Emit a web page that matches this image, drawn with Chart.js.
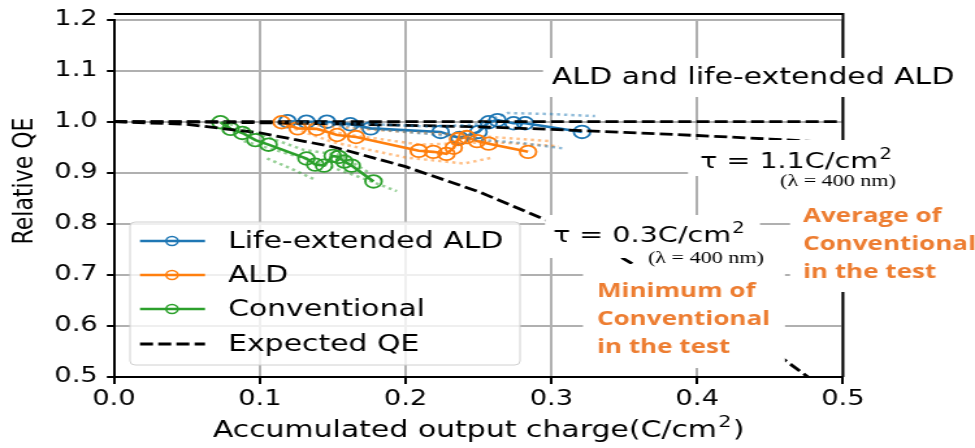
<!DOCTYPE html>
<html lang="en">
<head>
<meta charset="UTF-8">
<title>Relative QE</title>
<script src="https://cdn.jsdelivr.net/npm/chart.js@4.4.1/dist/chart.umd.min.js"></script>
<style>
  body { margin: 0; background: #fff; }
  #qe { display: block; width: 975px; height: 448px; }
</style>
</head>
<body>
<canvas id="qe" width="750" height="448" style="width:975px;height:448px"></canvas>
<script>
// values
var xTicks = [0.0, 0.1, 0.2, 0.3, 0.4, 0.5];
var yTicks = [0.5, 0.6, 0.7, 0.8, 0.9, 1.0, 1.1, 1.2];

var blueX = [0.119, 0.132, 0.146, 0.162, 0.176, 0.224, 0.237, 0.250, 0.257, 0.263, 0.274, 0.282, 0.321];
var blueY = [1.001, 1.000, 1.000, 0.995, 0.987, 0.980, 0.968, 0.980, 0.999, 1.003, 0.997, 0.997, 0.980];
var orangeX = [0.115, 0.126, 0.139, 0.153, 0.166, 0.209, 0.219, 0.228, 0.233, 0.236, 0.242, 0.249, 0.257, 0.284];
var orangeY = [0.999, 0.987, 0.986, 0.974, 0.970, 0.943, 0.941, 0.937, 0.949, 0.966, 0.970, 0.962, 0.957, 0.941];
var greenX = [0.073, 0.080, 0.088, 0.097, 0.106, 0.132, 0.138, 0.144, 0.150, 0.154, 0.158, 0.163, 0.178];
var greenY = [0.999, 0.986, 0.978, 0.964, 0.955, 0.928, 0.916, 0.914, 0.933, 0.931, 0.922, 0.914, 0.883];

// dotted traces of the single runs
var blueHiX = [0.12, 0.18, 0.22, 0.25, 0.27, 0.30, 0.33];
var blueHiY = [1.000, 0.995, 0.990, 0.995, 1.017, 1.015, 1.011];
var blueLoX = [0.14, 0.18, 0.22, 0.25, 0.28, 0.31];
var blueLoY = [0.998, 0.985, 0.975, 0.965, 0.958, 0.947];
var orangeHiX = [0.115, 0.15, 0.20, 0.25, 0.30];
var orangeHiY = [1.000, 0.990, 0.980, 0.972, 0.962];
var orangeMidX = [0.13, 0.16, 0.21, 0.26, 0.305];
var orangeMidY = [0.990, 0.975, 0.955, 0.960, 0.952];
var orangeLoX = [0.115, 0.15, 0.20, 0.24, 0.26];
var orangeLoY = [0.995, 0.960, 0.930, 0.918, 0.930];
var greenHiX = [0.075, 0.10, 0.13, 0.155, 0.175];
var greenHiY = [1.000, 0.975, 0.945, 0.935, 0.900];
var greenLoX = [0.089, 0.11, 0.14, 0.17, 0.194];
var greenLoY = [0.962, 0.945, 0.920, 0.890, 0.864];
var greenLo2X = [0.105, 0.12, 0.139];
var greenLo2Y = [0.928, 0.910, 0.885];

// expected QE curves
var flatX = [0.0, 0.5];
var flatY = [1.0, 1.0];
var tau11X = [0.0, 0.05, 0.1, 0.15, 0.2, 0.25, 0.3, 0.35, 0.4, 0.45, 0.5];
var tau11Y = [1.0, 0.9996, 0.998, 0.996, 0.993, 0.990, 0.985, 0.979, 0.973, 0.966, 0.958];
var tau03X = [0.0, 0.05, 0.1, 0.15, 0.2, 0.25, 0.3, 0.35, 0.4, 0.45, 0.476];
var tau03Y = [1.0, 0.995, 0.978, 0.951, 0.912, 0.863, 0.803, 0.731, 0.648, 0.554, 0.5];

var legendLabels = ['Life-extended ALD', 'ALD', 'Conventional', 'Expected QE'];

var BLUE = '#1f77b4', ORANGE = '#ff7f0e', GREEN = '#2ca02c';
var SX = 1.3; // the picture is stretched horizontally

function pts(xs, ys) {
    return xs.map(function (x, i) { return {x: x, y: ys[i]}; });
}
function fade(hex) {
    var r = parseInt(hex.substr(1, 2), 16), g = parseInt(hex.substr(3, 2), 16), b = parseInt(hex.substr(5, 2), 16);
    return 'rgba(' + r + ',' + g + ',' + b + ',0.5)';
}
function mainSet(xs, ys, col) {
    return {data: pts(xs, ys), showLine: true, borderColor: col, borderWidth: 2.6,
        pointRadius: 6.3, pointBorderWidth: 1.8, pointBorderColor: col,
        pointBackgroundColor: 'rgba(0,0,0,0)'};
}
function dotSet(xs, ys, col) {
    return {data: pts(xs, ys), showLine: true, borderColor: fade(col), borderWidth: 2.5,
        borderDash: [2.5, 3], pointRadius: 0};
}
function dashSet(xs, ys) {
    return {data: pts(xs, ys), showLine: true, borderColor: '#000', borderWidth: 2.8,
        borderDash: [10, 4], pointRadius: 0};
}

// text with a raised "2" like the mathtext in the picture
function supText(ctx, parts, x, y, size, family) {
    ctx.font = size + 'px ' + family;
    ctx.fillText(parts[0], x, y);
    var w = ctx.measureText(parts[0]).width;
    ctx.font = Math.round(size * 0.7) + 'px ' + family;
    ctx.fillText('2', x + w + 1, y - size * 0.42);
    var w2 = ctx.measureText('2').width;
    if (parts[1]) {
        ctx.font = size + 'px ' + family;
        ctx.fillText(parts[1], x + w + w2 + 2, y);
    }
}

var L = 114 / SX, R = 843 / SX, T = 14, B = 377;

var boxes = [
    {x0: 543, y0: 58, x1: 975, y1: 97},
    {x0: 688, y0: 140, x1: 895, y1: 176},
    {x0: 775, y0: 172, x1: 905, y1: 196},
    {x0: 790, y0: 196, x1: 975, y1: 292},
    {x0: 545, y0: 215, x1: 760, y1: 258},
    {x0: 640, y0: 250, x1: 775, y1: 270},
    {x0: 583, y0: 264, x1: 785, y1: 368}
];
var texts = [
    {t: 'ALD and life-extended ALD', x: 552, y: 84, f: '23px "DejaVu Sans"', c: '#000'},
    {t: '(λ = 400 nm)', x: 780, y: 186, f: '17px "Liberation Serif"', c: '#000'},
    {t: '(λ = 400 nm)', x: 648, y: 263, f: '17px "Liberation Serif"', c: '#000'},
    {t: 'Average of', x: 803, y: 222, f: 'bold 20px "Open Sans"', c: '#ed7d31'},
    {t: 'Conventional', x: 803, y: 250, f: 'bold 20px "Open Sans"', c: '#ed7d31'},
    {t: 'in the test', x: 803, y: 278, f: 'bold 20px "Open Sans"', c: '#ed7d31'},
    {t: 'Minimum of', x: 597, y: 297, f: 'bold 20px "Open Sans"', c: '#ed7d31'},
    {t: 'Conventional', x: 597, y: 325, f: 'bold 20px "Open Sans"', c: '#ed7d31'},
    {t: 'in the test', x: 597, y: 353, f: 'bold 20px "Open Sans"', c: '#ed7d31'}
];

var legendPlugin = {
    id: 'qeLegend',
    afterDatasetsDraw: function (chart) {
        var ctx = chart.ctx;
        var x0 = 130 / SX, y0 = 222, w = (520 - 130) / SX, h = 143;
        ctx.save();
        ctx.beginPath();
        ctx.roundRect(x0, y0, w, h, 4);
        ctx.fillStyle = 'rgba(255,255,255,0.8)';
        ctx.fill();
        ctx.strokeStyle = '#d0d0d0';
        ctx.lineWidth = 1;
        ctx.stroke();
        var cols = [BLUE, ORANGE, GREEN, '#000'];
        var rows = [241, 275, 309, 344];
        ctx.font = '23px "DejaVu Sans"';
        ctx.textBaseline = 'middle';
        legendLabels.forEach(function (lab, i) {
            var y = rows[i];
            ctx.strokeStyle = cols[i];
            ctx.lineWidth = i === 3 ? 2.8 : 2.6;
            ctx.setLineDash(i === 3 ? [10, 4] : []);
            ctx.beginPath();
            ctx.moveTo(140 / SX, y);
            ctx.lineTo(205 / SX, y);
            ctx.stroke();
            ctx.setLineDash([]);
            if (i < 3) {
                ctx.lineWidth = 1.6;
                ctx.beginPath();
                ctx.arc(172 / SX, y, 4.5, 0, Math.PI * 2);
                ctx.stroke();
            }
            ctx.fillStyle = '#000';
            ctx.fillText(lab, 228 / SX, y + 1);
        });
        ctx.restore();
    },
    afterDraw: function (chart) {
        var ctx = chart.ctx;
        ctx.save();
        // top and right spines
        ctx.strokeStyle = '#000';
        ctx.lineWidth = 2;
        ctx.beginPath();
        ctx.moveTo(L, T);
        ctx.lineTo(R, T);
        ctx.lineTo(R, B);
        ctx.stroke();
        // white text boxes
        ctx.fillStyle = '#fff';
        boxes.forEach(function (b) {
            ctx.fillRect(b.x0 / SX, b.y0, (b.x1 - b.x0) / SX, b.y1 - b.y0);
        });
        ctx.textBaseline = 'alphabetic';
        texts.forEach(function (t) {
            ctx.font = t.f;
            ctx.fillStyle = t.c;
            ctx.fillText(t.t, t.x / SX, t.y);
        });
        ctx.fillStyle = '#000';
        supText(ctx, ['τ = 1.1C/cm'], 700 / SX, 168, 22, '"DejaVu Sans"');
        supText(ctx, ['τ = 0.3C/cm'], 553 / SX, 242, 22, '"DejaVu Sans"');
        // axis titles
        var title = 'Accumulated output charge(C/cm';
        ctx.font = '23px "DejaVu Sans"';
        var tw = ctx.measureText(title + ')').width + 12;
        supText(ctx, [title, ')'], (L + R) / 2 - tw / 2, 437, 23, '"DejaVu Sans"');
        ctx.translate(25 / SX, 181);
        ctx.rotate(-Math.PI / 2);
        ctx.font = '22px "DejaVu Sans"';
        ctx.textAlign = 'center';
        ctx.textBaseline = 'middle';
        ctx.fillText('Relative QE', 0, 0);
        ctx.restore();
    }
};

new Chart(document.getElementById('qe'), {
    type: 'scatter',
    data: {
        datasets: [
            dotSet(blueHiX, blueHiY, BLUE), dotSet(blueLoX, blueLoY, BLUE),
            dotSet(orangeHiX, orangeHiY, ORANGE), dotSet(orangeMidX, orangeMidY, ORANGE),
            dotSet(orangeLoX, orangeLoY, ORANGE),
            dotSet(greenHiX, greenHiY, GREEN), dotSet(greenLoX, greenLoY, GREEN),
            dotSet(greenLo2X, greenLo2Y, GREEN),
            dashSet(flatX, flatY), dashSet(tau11X, tau11Y), dashSet(tau03X, tau03Y),
            mainSet(greenX, greenY, GREEN),
            mainSet(orangeX, orangeY, ORANGE),
            mainSet(blueX, blueY, BLUE)
        ]
    },
    options: {
        responsive: false,
        animation: false,
        devicePixelRatio: 1,
        layout: {padding: {left: 0, right: 750 - R, top: T, bottom: 0}},
        plugins: {legend: {display: false}, tooltip: {enabled: false}},
        scales: {
            x: {
                type: 'linear', min: 0, max: 0.5,
                afterFit: function (s) { s.height = 448 - B; },
                afterBuildTicks: function (s) { s.ticks = xTicks.map(function (v) { return {value: v}; }); },
                grid: {color: '#b0b0b0', lineWidth: 2, tickColor: '#000', tickLength: 7, tickWidth: 2},
                border: {color: '#000', width: 2},
                ticks: {color: '#000', padding: 3, font: {family: 'DejaVu Sans', size: 21},
                    callback: function (v) { return v.toFixed(1); }}
            },
            y: {
                type: 'linear', min: 0.5, max: 1.2,
                afterFit: function (s) { s.width = L; },
                afterBuildTicks: function (s) { s.ticks = yTicks.map(function (v) { return {value: v}; }); },
                grid: {color: '#b0b0b0', lineWidth: 2, tickColor: '#000', tickLength: 5.5, tickWidth: 2},
                border: {color: '#000', width: 2},
                ticks: {color: '#000', padding: 7, font: {family: 'DejaVu Sans', size: 21},
                    callback: function (v) { return v.toFixed(1); }}
            }
        }
    },
    plugins: [legendPlugin]
});
</script>
</body>
</html>
